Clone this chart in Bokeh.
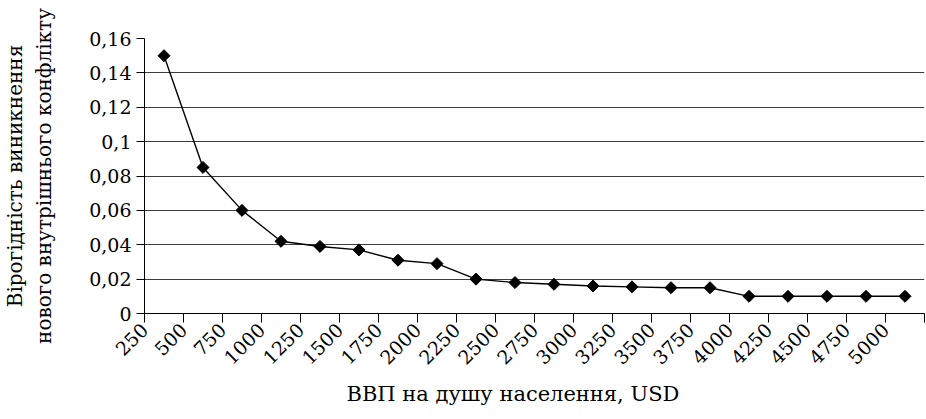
import math
from bokeh.plotting import figure
from bokeh.models import FixedTicker, Range1d, ColumnDataSource, Title
from bokeh.embed import file_html
from bokeh.resources import INLINE

# Data
categories = ["250", "500", "750", "1000", "1250", "1500", "1750", "2000", "2250", "2500",
              "2750", "3000", "3250", "3500", "3750", "4000", "4250", "4500", "4750", "5000"]
probability = [0.15, 0.085, 0.06, 0.042, 0.039, 0.037, 0.031, 0.029, 0.02, 0.018,
               0.017, 0.016, 0.0155, 0.015, 0.015, 0.01, 0.01, 0.01, 0.01, 0.01]
y_ticks = [0, 0.02, 0.04, 0.06, 0.08, 0.1, 0.12, 0.14, 0.16]
y_tick_labels = ["0", "0,02", "0,04", "0,06", "0,08", "0,1", "0,12", "0,14", "0,16"]
x_title = "ВВП на душу населення, USD"
y_title_lines = ["Вірогідність виникнення", "нового внутрішнього конфлікту"]

n = len(categories)
xs = [i + 0.5 for i in range(n)]
src = ColumnDataSource(dict(x=xs, y=probability))

FONT = "DejaVu Serif"

p = figure(width=926, height=419, output_backend="svg", toolbar_location=None,
           x_range=Range1d(0, n), y_range=Range1d(0, 0.16),
           min_border_left=140, min_border_right=2, min_border_top=38, min_border_bottom=106)
p.outline_line_color = None
p.xgrid.visible = False
p.ygrid.ticker = FixedTicker(ticks=y_ticks[1:-1])
p.ygrid.grid_line_color = "#3c3c3c"
p.ygrid.grid_line_width = 1

p.line("x", "y", source=src, line_color="black", line_width=1.4)
p.scatter("x", "y", source=src, marker="square", size=8.5, angle=math.pi / 4,
          fill_color="black", line_color="black")

# X axis
xa = p.xaxis[0]
xa.ticker = FixedTicker(ticks=list(range(n + 1)))
overrides = {i: categories[i] for i in range(n)}
overrides[n] = ""
xa.major_label_overrides = overrides
xa.major_label_orientation = math.pi / 4
xa.major_tick_out = 9
xa.major_tick_in = 0
xa.minor_tick_out = 0
xa.minor_tick_in = 0
xa.major_label_standoff = 4

# Y axis
ya = p.yaxis[0]
ya.ticker = FixedTicker(ticks=y_ticks)
ya.major_label_overrides = {t: l for t, l in zip(y_ticks, y_tick_labels)}
ya.major_tick_out = 8
ya.major_tick_in = 0
ya.minor_tick_out = 0
ya.minor_tick_in = 0
ya.major_label_standoff = 5
ya.axis_label = "\n".join(y_title_lines)
ya.axis_label_standoff = 30
ya.axis_label_text_font = FONT
ya.axis_label_text_font_size = "20px"
ya.axis_label_text_font_style = "normal"
ya.axis_label_text_color = "black"
ya.axis_label_text_line_height = 1.2

for ax in (xa, ya):
    ax.axis_line_color = "black"
    ax.major_tick_line_color = "black"
    ax.major_label_text_font = FONT
    ax.major_label_text_font_size = "19px"
    ax.major_label_text_color = "black"

tx = Title(text=x_title, align="left", offset=202, standoff=12,
           text_font=FONT, text_font_size="21px", text_font_style="normal",
           text_color="black")
p.add_layout(tx, "below")

open("out.html", "w").write(file_html(p, INLINE))
